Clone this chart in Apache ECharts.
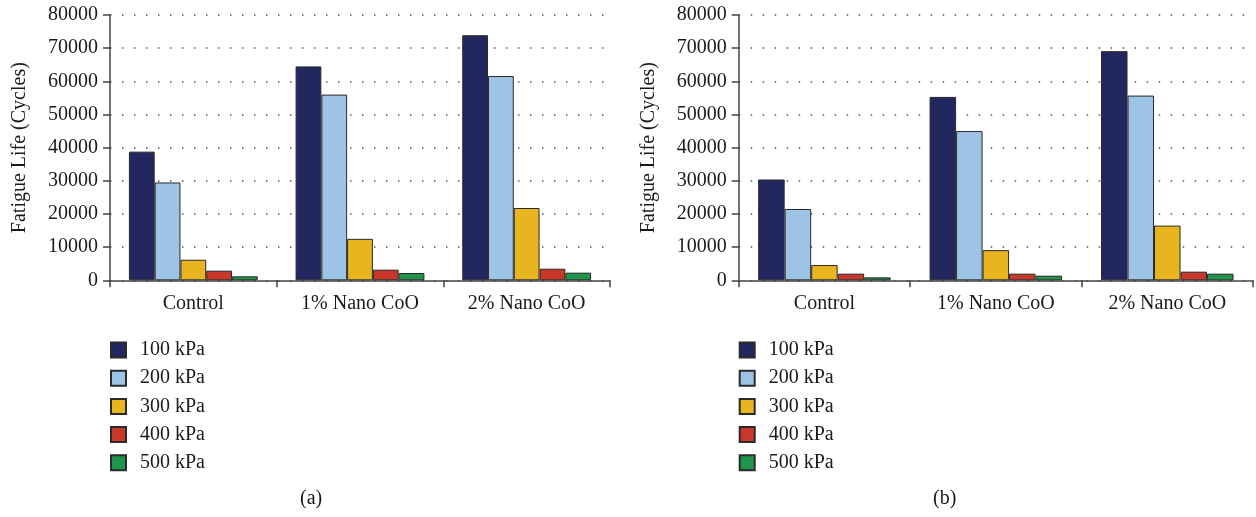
<!DOCTYPE html>
<html>
<head>
<meta charset="utf-8">
<script src="https://cdn.jsdelivr.net/npm/echarts@6/dist/echarts.min.js"></script>
<style>
html,body{margin:0;padding:0;background:#fff;}
#chart{width:1256px;height:517px;}
</style>
</head>
<body>
<div id="chart"></div>
<script>
const categories = ['Control', '1% Nano CoO', '2% Nano CoO'];
const seriesNames = ['100 kPa', '200 kPa', '300 kPa', '400 kPa', '500 kPa'];
const yTicks = [0, 10000, 20000, 30000, 40000, 50000, 60000, 70000, 80000];
// Panel (a)
const a100 = [38800, 64500, 73900];
const a200 = [29500, 56000, 61600];
const a300 = [6200, 12500, 21800];
const a400 = [2900, 3200, 3500];
const a500 = [1200, 2200, 2300];
// Panel (b)
const b100 = [30400, 55300, 69100];
const b200 = [21500, 45000, 55700];
const b300 = [4600, 9100, 16500];
const b400 = [2000, 2000, 2600];
const b500 = [900, 1400, 2000];

const colors = ['#23275f', '#9dc3e6', '#e8b41f', '#c9372a', '#1f944a'];
const FONT = 'Liberation Serif';
const FS = 20;
const TXT = '#1a1a1a';
const panelA = [a100, a200, a300, a400, a500];
const panelB = [b100, b200, b300, b400, b500];

function xAxis(gi) {
  return {
    type: 'category', gridIndex: gi, data: categories,
    axisLine: {lineStyle: {color: '#444', width: 1.5}},
    axisTick: {show: true, length: 7, lineStyle: {color: '#444', width: 1.5}},
    axisLabel: {fontFamily: FONT, fontSize: FS, color: TXT, margin: 13}
  };
}
function yAxis(gi) {
  return {
    type: 'value', gridIndex: gi, min: yTicks[0], max: yTicks[yTicks.length - 1], interval: yTicks[1] - yTicks[0],
    name: 'Fatigue Life (Cycles)', nameLocation: 'middle', nameGap: 80, nameRotate: 90,
    nameTextStyle: {fontFamily: FONT, fontSize: FS, color: TXT},
    axisLine: {show: true, lineStyle: {color: '#444', width: 1.5}},
    axisTick: {show: true, length: 7, lineStyle: {color: '#444', width: 1.5}},
    axisLabel: {fontFamily: FONT, fontSize: FS, color: TXT, margin: 12, formatter: v => String(v)},
    splitLine: {show: true, lineStyle: {color: '#555', width: 1.5, type: [1.5, 10.5]}}
  };
}
const series = [];
[panelA, panelB].forEach((panel, gi) => {
  panel.forEach((vals, i) => {
    series.push({
      type: 'bar', name: seriesNames[i], xAxisIndex: gi, yAxisIndex: gi, data: vals,
      barGap: '0%', barCategoryGap: '22.7%',
      itemStyle: {color: colors[i], borderColor: '#2a2a2a', borderWidth: 1},
      emphasis: {disabled: true}
    });
  });
});
function legend(left) {
  return {
    orient: 'vertical', left: left, top: 335, data: seriesNames,
    itemWidth: 15, itemHeight: 15, itemGap: 8.2, icon: 'rect',
    textStyle: {fontFamily: FONT, fontSize: FS, color: TXT, padding: [0, 0, 0, 9]}
  };
}
const chart = echarts.init(document.getElementById('chart'), null, {renderer: 'canvas'});
chart.setOption({
  animation: false,
  backgroundColor: '#fff',
  grid: [
    {left: 110, right: 646, top: 15, bottom: 236.7},
    {left: 738.7, right: 3, top: 15, bottom: 236.7}
  ],
  xAxis: [xAxis(0), xAxis(1)],
  yAxis: [yAxis(0), yAxis(1)],
  legend: [legend(105), legend(733.7)],
  graphic: [
    {type: 'text', left: 300, top: 489, style: {text: '(a)', font: FS + 'px "' + FONT + '"', fill: TXT}},
    {type: 'text', left: 933, top: 489, style: {text: '(b)', font: FS + 'px "' + FONT + '"', fill: TXT}}
  ],
  series: series
});
</script>
</body>
</html>
